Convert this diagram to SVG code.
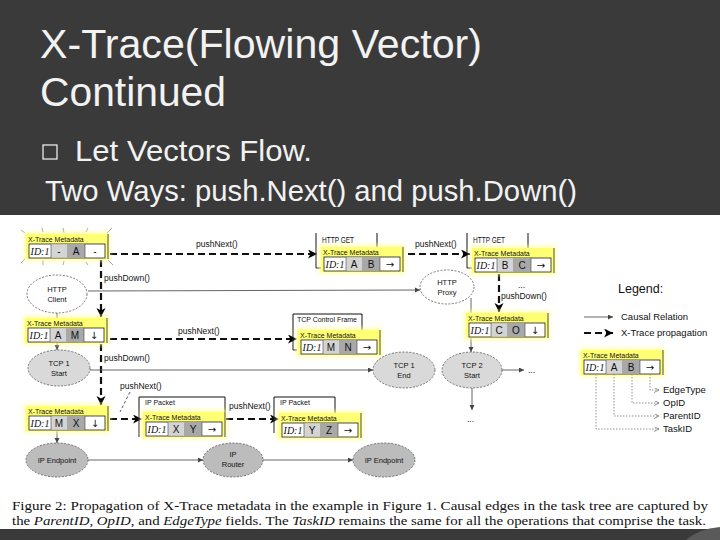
<svg xmlns="http://www.w3.org/2000/svg" xmlns:xlink="http://www.w3.org/1999/xlink" width="720" height="540" viewBox="0 0 720 540">
<style>
.ttl{font-family:"Liberation Sans",Arial,sans-serif;font-size:41px;fill:#f2f2f2}
.bul{font-family:"Liberation Sans",Arial,sans-serif;font-size:29.5px;fill:#f2f2f2}
.dash{stroke:#111;stroke-width:2.2;stroke-dasharray:7 4;fill:none}
.causal{stroke:#555;stroke-width:0.9;fill:none}
.frame{stroke:#111;stroke-width:1;fill:none}
.dot{stroke:#888;stroke-width:0.9;stroke-dasharray:1.5 1.5;fill:none}
.spark{stroke:#999;stroke-width:0.9;fill:none}
.mdy{fill:#ffff73}
.glow{fill:#ffff9a;opacity:0.8}
.row{fill:#fff;stroke:#222;stroke-width:0.8}
.c2{fill:#d4d4d4}
.c3{fill:#a8a8a8}
.div{stroke:#444;stroke-width:0.6}
.mdt{font-family:"Liberation Sans",Arial,sans-serif;font-size:7px;fill:#111}
.idt{font-family:"Liberation Serif","Times New Roman",serif;font-style:italic;font-size:10px;fill:#111;text-anchor:middle}
.ct{font-family:"Liberation Sans","DejaVu Sans",sans-serif;font-size:10px;fill:#111;text-anchor:middle}
.ar{font-family:"DejaVu Sans",sans-serif;font-size:10px;fill:#111;text-anchor:middle}
.lbl{font-family:"Liberation Sans",Arial,sans-serif;font-size:8.5px;fill:#111}
.nd{font-family:"Liberation Sans",Arial,sans-serif;font-size:7.5px;fill:#111;text-anchor:middle}
.ewhite{fill:#fff;stroke:#555;stroke-width:0.8;stroke-dasharray:2 1.5}
.elight{fill:#d9d9d9;stroke:#555;stroke-width:0.8;stroke-dasharray:2 1.5}
.edark{fill:#bcbcbc;stroke:#555;stroke-width:0.8;stroke-dasharray:2 1.5}
.leg{font-family:"Liberation Sans",Arial,sans-serif;font-size:9.5px;fill:#111}
.cap{font-family:"Liberation Serif","Times New Roman",serif;font-size:13.5px;fill:#111}
</style>
<defs>
<filter id="blur" x="-20%" y="-30%" width="140%" height="160%"><feGaussianBlur stdDeviation="2"/></filter>
<marker id="ahThick" markerUnits="userSpaceOnUse" markerWidth="10" markerHeight="10" refX="9" refY="4.5" orient="auto">
<path d="M0,0 L9,4.5 L0,9 L2.5,4.5 z" fill="#000"/>
</marker>
<marker id="ahThin" markerUnits="userSpaceOnUse" markerWidth="6" markerHeight="6" refX="5" refY="2.5" orient="auto">
<path d="M0,0 L5,2.5 L0,5 z" fill="#444"/>
</marker>
<marker id="ahDot" markerUnits="userSpaceOnUse" markerWidth="6" markerHeight="6" refX="5" refY="2.5" orient="auto">
<path d="M0,0 L5,2.5 L0,5" fill="none" stroke="#777" stroke-width="0.8"/>
</marker>
<g id="mdbase">
<rect class="glow" x="-2" y="-2" width="86" height="29" filter="url(#blur)"/>
<rect class="mdy" width="82" height="25"/>
<line x1="82" y1="0" x2="82" y2="25" stroke="#222" stroke-width="0.8"/>
<text class="mdt" x="2" y="7.5">X-Trace Metadata</text>
<rect class="row" x="3" y="10" width="76" height="14"/>
<rect class="c2" x="25" y="10.4" width="16" height="13.2"/>
<rect class="c3" x="41" y="10.4" width="18" height="13.2"/>
<line class="div" x1="25" y1="10" x2="25" y2="24"/>
<line class="div" x1="59" y1="10" x2="59" y2="24"/>
<text class="idt" x="14" y="21">ID:1</text>
</g>
</defs>

<!-- slide background -->
<rect x="0" y="0" width="720" height="540" fill="#3a3a3a"/>
<text class="ttl" x="40" y="58" textLength="442" lengthAdjust="spacingAndGlyphs">X-Trace(Flowing Vector)</text>
<text class="ttl" x="40" y="106" textLength="186" lengthAdjust="spacingAndGlyphs">Continued</text>
<rect x="43" y="145" width="14" height="14" fill="none" stroke="#dcdcdc" stroke-width="1.4"/>
<text class="bul" x="75" y="161" textLength="237" lengthAdjust="spacingAndGlyphs">Let Vectors Flow.</text>
<text class="bul" x="45" y="201" textLength="532" lengthAdjust="spacingAndGlyphs">Two Ways: push.Next() and push.Down()</text>

<!-- figure panel -->
<rect x="0" y="215" width="720" height="314" fill="#fff"/>
<path d="M686,540 Q698,529 720,527 L720,540 Z" fill="#5a5a5a"/>

<!-- connectors -->
<g id="connectors">
<line class="dash" x1="110" y1="254" x2="317" y2="254" marker-end="url(#ahThick)"/>
<line class="dash" x1="408" y1="254" x2="470" y2="254" marker-end="url(#ahThick)"/>
<line class="dash" x1="101" y1="260" x2="101" y2="317" marker-end="url(#ahThick)"/>
<line class="dash" x1="499" y1="274" x2="499" y2="312" marker-end="url(#ahThick)"/>
<line class="dash" x1="110" y1="339" x2="297" y2="339" marker-end="url(#ahThick)"/>
<line class="dash" x1="101" y1="344" x2="101" y2="405" marker-end="url(#ahThick)"/>
<line class="dash" x1="110" y1="419" x2="142" y2="419" marker-end="url(#ahThick)"/>
<line class="dash" x1="226" y1="419" x2="279" y2="419" marker-end="url(#ahThick)"/>
<line x1="130" y1="392" x2="120" y2="412" stroke="#333" stroke-width="0.8" stroke-dasharray="3 2"/>
<text class="lbl" x="196" y="247">pushNext()</text>
<text class="lbl" x="415" y="247">pushNext()</text>
<text class="lbl" x="104" y="281">pushDown()</text>
<text class="lbl" x="501" y="299">pushDown()</text>
<text class="lbl" x="178" y="334">pushNext()</text>
<text class="lbl" x="104" y="361">pushDown()</text>
<text class="lbl" x="120" y="389">pushNext()</text>
<text class="lbl" x="229" y="409">pushNext()</text>
<line class="causal" x1="88" y1="291" x2="420" y2="290" marker-end="url(#ahThin)"/>
<line class="causal" x1="57" y1="313" x2="57" y2="318"/>
<line class="causal" x1="57" y1="343" x2="57" y2="350" marker-end="url(#ahThin)"/>
<line class="causal" x1="90" y1="370" x2="373" y2="370" marker-end="url(#ahThin)"/>
<line class="causal" x1="471" y1="298" x2="471" y2="313"/>
<line class="causal" x1="471" y1="338" x2="471" y2="352" marker-end="url(#ahThin)"/>
<line class="causal" x1="502" y1="370" x2="524" y2="370" marker-end="url(#ahThin)"/>
<line class="causal" x1="472" y1="388" x2="472" y2="410" marker-end="url(#ahThin)"/>
<line class="causal" x1="57" y1="431" x2="57" y2="443" marker-end="url(#ahThin)"/>
<line class="causal" x1="88" y1="460" x2="203" y2="460" marker-end="url(#ahThin)"/>
<line class="causal" x1="263" y1="460" x2="353" y2="460" marker-end="url(#ahThin)"/>
<text class="lbl" x="528" y="373">...</text>
<text class="lbl" x="467" y="422">...</text>
<text class="lbl" x="518" y="288">...</text>
</g>

<!-- frames -->
<g id="frame-http1">
<path class="frame" d="M316,233 V268 H321 M377,233 V247"/>
<text class="lbl" x="322" y="243" textLength="32" lengthAdjust="spacingAndGlyphs">HTTP GET</text>
</g>
<g id="frame-http2">
<path class="frame" d="M467,233 V268 H472 M528,233 V248"/>
<text class="lbl" x="473" y="243" textLength="32" lengthAdjust="spacingAndGlyphs">HTTP GET</text>
</g>
<g id="frame-tcp">
<path class="frame" d="M293,350 H297 M293,350 V314 H362 V330"/>
<text class="mdt" x="297" y="322" textLength="60">TCP Control Frame</text>
</g>
<g id="frame-ip1">
<path class="frame" d="M139,437 V397 H225 V412"/>
<text class="mdt" x="145" y="405">IP Packet</text>
</g>
<g id="frame-ip2">
<path class="frame" d="M274,433 V397 H335 V413"/>
<text class="mdt" x="280" y="405">IP Packet</text>
</g>

<!-- metadata boxes -->
<g id="md1" transform="translate(26,234)">
<path class="spark" d="M-5,-4 L-1,-1 M16,-6 L17,-2 M37,-6 L38,-1 M62,-6 L60,-2 M86,-6 L81,-1 M-5,29 L-1,25 M17,31 L17,26 M37,31 L38,27 M60,28 L62,31 M87,31 L82,26"/>
<use xlink:href="#mdbase"/>
<text class="ct" x="33" y="21">-</text><text class="ct" x="50" y="21">A</text><text class="ct" x="69" y="21">-</text>
</g>
<g id="md2" transform="translate(321,247)">
<use xlink:href="#mdbase"/>
<text class="ct" x="33" y="21">A</text><text class="ct" x="50" y="21">B</text><text class="ar" x="69" y="21">→</text>
</g>
<g id="md3" transform="translate(472,248)">
<use xlink:href="#mdbase"/>
<text class="ct" x="33" y="21">B</text><text class="ct" x="50" y="21">C</text><text class="ar" x="69" y="21">→</text>
</g>
<g id="md4" transform="translate(25,318)">
<use xlink:href="#mdbase"/>
<text class="ct" x="33" y="21">A</text><text class="ct" x="50" y="21">M</text><text class="ar" x="69" y="21">↓</text>
</g>
<g id="md5" transform="translate(298,330)">
<use xlink:href="#mdbase"/>
<text class="ct" x="33" y="21">M</text><text class="ct" x="50" y="21">N</text><text class="ar" x="69" y="21">→</text>
</g>
<g id="md6" transform="translate(466,313)">
<use xlink:href="#mdbase"/>
<text class="ct" x="33" y="21">C</text><text class="ct" x="50" y="21">O</text><text class="ar" x="69" y="21">↓</text>
</g>
<g id="md7" transform="translate(26,406)">
<use xlink:href="#mdbase"/>
<text class="ct" x="33" y="21">M</text><text class="ct" x="50" y="21">X</text><text class="ar" x="69" y="21">↓</text>
</g>
<g id="md8" transform="translate(143,412)">
<use xlink:href="#mdbase"/>
<text class="ct" x="33" y="21">X</text><text class="ct" x="50" y="21">Y</text><text class="ar" x="69" y="21">→</text>
</g>
<g id="md9" transform="translate(279,413)">
<use xlink:href="#mdbase"/>
<text class="ct" x="33" y="21">Y</text><text class="ct" x="50" y="21">Z</text><text class="ar" x="69" y="21">→</text>
</g>

<!-- nodes -->
<g id="http-client"><ellipse class="ewhite" cx="57" cy="294" rx="30" ry="19"/><text class="nd" x="57" y="292">HTTP</text><text class="nd" x="57" y="302">Client</text></g>
<g id="http-proxy"><ellipse class="ewhite" cx="447" cy="287" rx="27" ry="17"/><text class="nd" x="447" y="285">HTTP</text><text class="nd" x="447" y="295">Proxy</text></g>
<g id="tcp1-start"><ellipse class="elight" cx="59" cy="368" rx="31" ry="18"/><text class="nd" x="59" y="366">TCP 1</text><text class="nd" x="59" y="376">Start</text></g>
<g id="tcp1-end"><ellipse class="elight" cx="404" cy="370" rx="31" ry="18"/><text class="nd" x="404" y="368">TCP 1</text><text class="nd" x="404" y="378">End</text></g>
<g id="tcp2-start"><ellipse class="elight" cx="472" cy="370" rx="30" ry="18"/><text class="nd" x="472" y="368">TCP 2</text><text class="nd" x="472" y="378">Start</text></g>
<g id="ip-endpoint-1"><ellipse class="edark" cx="57" cy="460" rx="31" ry="17"/><text class="nd" x="57" y="463">IP Endpoint</text></g>
<g id="ip-router"><ellipse class="edark" cx="233" cy="460" rx="30" ry="17"/><text class="nd" x="233" y="457">IP</text><text class="nd" x="233" y="467">Router</text></g>
<g id="ip-endpoint-2"><ellipse class="edark" cx="384" cy="460" rx="31" ry="17"/><text class="nd" x="384" y="463">IP Endpoint</text></g>

<!-- legend -->
<g id="legend">
<text x="618" y="293" font-family="Liberation Sans, Arial, sans-serif" font-size="12.5" fill="#111">Legend:</text>
<line class="causal" x1="584" y1="317" x2="613" y2="317" marker-end="url(#ahThin)"/>
<text class="leg" x="621" y="320">Causal Relation</text>
<line class="dash" x1="584" y1="333" x2="613" y2="333" marker-end="url(#ahThick)"/>
<text class="leg" x="621" y="336">X-Trace propagation</text>
<g transform="translate(581,350)">
<use xlink:href="#mdbase"/>
<text class="ct" x="33" y="21">A</text><text class="ct" x="50" y="21">B</text><text class="ar" x="69" y="21">→</text>
</g>
<path class="dot" d="M650,374 V390 H659" marker-end="url(#ahDot)"/>
<path class="dot" d="M632,374 V403 H659" marker-end="url(#ahDot)"/>
<path class="dot" d="M614,374 V416 H659" marker-end="url(#ahDot)"/>
<path class="dot" d="M596,374 V429 H659" marker-end="url(#ahDot)"/>
<text class="leg" x="663" y="393">EdgeType</text>
<text class="leg" x="663" y="406">OpID</text>
<text class="leg" x="663" y="419">ParentID</text>
<text class="leg" x="663" y="432">TaskID</text>
</g>

<!-- caption -->
<text class="cap" x="12" y="510" textLength="696" lengthAdjust="spacingAndGlyphs">Figure 2: Propagation of X-Trace metadata in the example in Figure 1. Causal edges in the task tree are captured by</text>
<text class="cap" x="12" y="525" textLength="694" lengthAdjust="spacingAndGlyphs">the <tspan font-style="italic">ParentID</tspan>, <tspan font-style="italic">OpID</tspan>, and <tspan font-style="italic">EdgeType</tspan> fields. The <tspan font-style="italic">TaskID</tspan> remains the same for all the operations that comprise the task.</text>
</svg>
